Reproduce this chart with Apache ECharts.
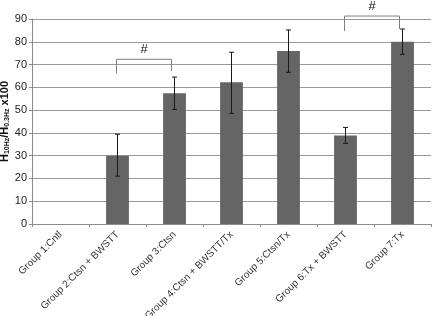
<!DOCTYPE html>
<html>
<head>
<meta charset="utf-8">
<script src="https://cdn.jsdelivr.net/npm/echarts@6/dist/echarts.min.js"></script>
<style>
  html, body { margin: 0; padding: 0; background: #fff; }
  #chart { width: 432px; height: 316px; }
</style>
</head>
<body>
<div id="chart"></div>
<script>
// values
var groups = ['Group 1:Cntl', 'Group 2:Ctsn + BWSTT', 'Group 3:Ctsn', 'Group 4:Ctsn + BWSTT/Tx',
    'Group 5:Ctsn/Tx', 'Group 6:Tx + BWSTT', 'Group 7:Tx'];
var means = [0, 30, 57.4, 62.2, 75.9, 38.8, 80];
var errLow = [null, 21, 50.3, 48.6, 66.6, 35.4, 74.5];
var errHigh = [null, 39.4, 64.5, 75.4, 85.2, 42.4, 85.6];
var yTicks = [0, 10, 20, 30, 40, 50, 60, 70, 80, 90];
// significance brackets: from group, to group, top level, left leg end, right leg end
var brackets = [
    [1, 2, 72.3, 66, 67.2],
    [5, 6, 91.3, 84.7, 85.6]
];

var font = '"Liberation Sans", Arial, sans-serif';
var chart = echarts.init(document.getElementById('chart'));

var errData = [];
for (var i = 0; i < groups.length; i++) {
    if (errLow[i] != null) errData.push([i, errLow[i], errHigh[i]]);
}
// a zero mean draws no bar at all in the original
var barData = means.map(function(v) { return v === 0 ? '-' : v; });

function renderErr(params, api) {
    var top = api.coord([api.value(0), api.value(2)]);
    var bot = api.coord([api.value(0), api.value(1)]);
    var w = 2.5;
    var st = { stroke: '#1a1a1a', lineWidth: 1 };
    return {
        type: 'group',
        children: [
            { type: 'line', shape: { x1: top[0], y1: top[1], x2: bot[0], y2: bot[1] }, style: st },
            { type: 'line', shape: { x1: top[0] - w, y1: top[1], x2: top[0] + w, y2: top[1] }, style: st },
            { type: 'line', shape: { x1: bot[0] - w, y1: bot[1], x2: bot[0] + w, y2: bot[1] }, style: st }
        ]
    };
}

function renderBracket(params, api) {
    var a = api.coord([api.value(0), api.value(2)]);
    var b = api.coord([api.value(1), api.value(2)]);
    var la = api.coord([api.value(0), api.value(3)]);
    var lb = api.coord([api.value(1), api.value(4)]);
    var x1 = a[0] - 1, x2 = b[0] - 3;
    var st = { stroke: '#7f7f7f', lineWidth: 1, fill: null };
    return {
        type: 'group',
        children: [
            { type: 'polyline', shape: { points: [[x1, la[1]], [x1, a[1]], [x2, a[1]], [x2, lb[1]]] }, style: st },
            { type: 'text', x: (x1 + x2) / 2, y: a[1] - 10,
              style: { text: '#', fontSize: 13, fontFamily: font, fill: '#111', align: 'center', verticalAlign: 'middle' } }
        ]
    };
}

var option = {
    animation: false,
    backgroundColor: '#fff',
    grid: { left: 32, right: 1, top: 19, bottom: 92, containLabel: false, outerBoundsMode: 'none' },
    xAxis: {
        type: 'category',
        data: groups,
        axisLine: { lineStyle: { color: '#8c8c8c', width: 1 } },
        axisTick: { show: true, length: 3, lineStyle: { color: '#8c8c8c' } },
        axisLabel: {
            rotate: 45, margin: 9, fontSize: 10, fontFamily: font, color: '#333',
            interval: 0
        }
    },
    yAxis: {
        type: 'value',
        min: yTicks[0],
        max: yTicks[yTicks.length - 1],
        interval: 10,
        name: '{a|H}{s|10Hz}{a|/H}{s|0.3Hz}{a| x100}',
        nameLocation: 'middle',
        nameGap: 21,
        nameRotate: 90,
        nameMoveOverlap: false,
        nameTextStyle: {
            rich: {
                a: { fontSize: 11, fontWeight: 'bold', fontFamily: font, color: '#111' },
                s: { fontSize: 7, fontWeight: 'bold', fontFamily: font, color: '#111', padding: [5, 0, 0, 0] }
            }
        },
        axisLine: { show: true, lineStyle: { color: '#8c8c8c', width: 1 } },
        axisTick: { show: true, length: 3, lineStyle: { color: '#8c8c8c' } },
        axisLabel: { fontSize: 11, fontFamily: font, color: '#222', margin: 5 },
        splitLine: { lineStyle: { color: '#9a9a9a', width: 1 } }
    },
    series: [
        {
            type: 'bar',
            data: barData,
            barWidth: '40%',
            itemStyle: { color: '#656565' }
        },
        {
            type: 'custom',
            renderItem: renderErr,
            data: errData,
            encode: { x: 0, y: [1, 2] },
            z: 5
        },
        {
            type: 'custom',
            renderItem: renderBracket,
            data: brackets,
            encode: { x: [0, 1], y: 2 },
            clip: false,
            z: 6
        }
    ]
};

chart.setOption(option);
</script>
</body>
</html>
